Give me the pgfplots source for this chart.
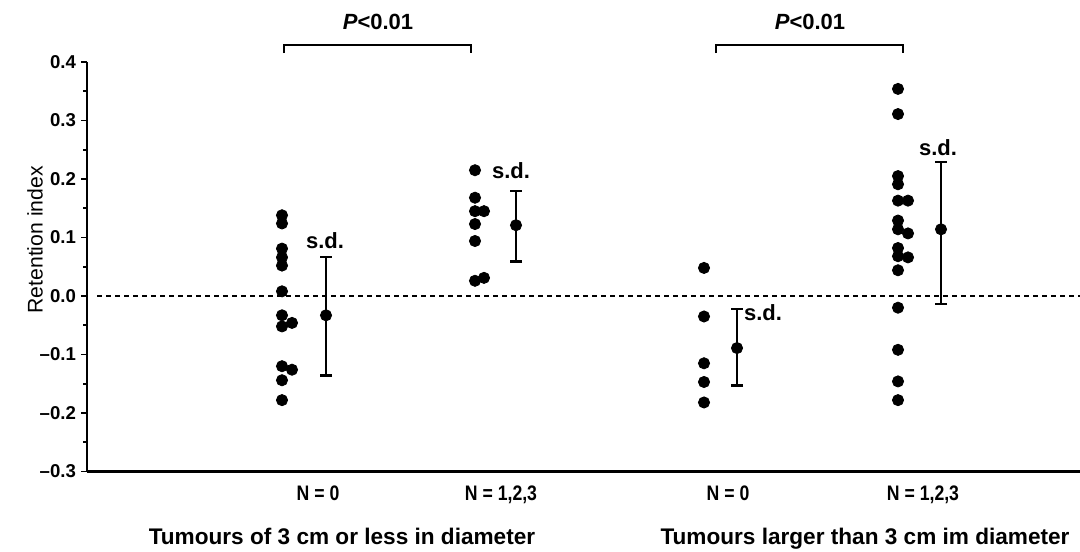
\documentclass[border=0pt]{standalone}
\usepackage{pgfplots}
\pgfplotsset{compat=1.18}
\usepackage{fontspec}
\setmainfont{Liberation Sans}
\newfontfamily\narrowfont[FakeStretch=0.84]{Liberation Sans}

\begin{document}
\begin{tikzpicture}
\begin{axis}[
    x=0.5pt, y=292.5pt,
    xmin=87, xmax=1080, ymin=-0.3, ymax=0.4,
    axis x line=bottom, axis y line=left,
    axis line style={-, line width=1.2pt},
    clip=false,
    ytick={-0.3,-0.2,-0.1,0,0.1,0.2,0.3,0.4},
    yticklabels={--0.3,--0.2,--0.1,0.0,0.1,0.2,0.3,0.4},
    minor ytick={-0.25,-0.15,-0.05,0.05,0.15,0.25,0.35},
    tick align=outside,
    major tick length=3pt, minor tick length=2pt,
    tick style={line width=0.9pt, black},
    yticklabel style={font=\fontsize{9.3}{10}\selectfont\bfseries, xshift=1pt},
    xtick={318,501,728,923},
    xticklabels={{N = 0},{N = 1,2,3},{N = 0},{N = 1,2,3}},
    x tick style={draw=none},
    xticklabel style={font=\narrowfont\bfseries\fontsize{10.5}{12}\selectfont, yshift=-0.5pt},
    dots/.style={only marks, mark=*, black, mark options={fill=black, draw=black}, mark size=2.8pt},
]
% zero line
\draw[line width=0.8pt, dash pattern=on 2.5pt off 2pt] (axis cs:97,0) -- (axis cs:1080,0);

% tumours <= 3 cm, N = 0
\addplot[dots] coordinates {
    (282,0.138) (282,0.124) (282,0.081) (282,0.066) (282,0.052) (282,0.008)
    (282,-0.033) (292,-0.046) (282,-0.052) (282,-0.120) (292,-0.126)
    (282,-0.144) (282,-0.178)
};
% tumours <= 3 cm, N = 1,2,3
\addplot[dots] coordinates {
    (475,0.215) (475,0.168) (475,0.145) (484,0.145) (475,0.123) (475,0.094)
    (475,0.026) (484,0.031)
};
% tumours > 3 cm, N = 0
\addplot[dots] coordinates {
    (704,0.048) (704,-0.035) (704,-0.115) (704,-0.147) (704,-0.182)
};
% tumours > 3 cm, N = 1,2,3
\addplot[dots] coordinates {
    (898,0.354) (898,0.311) (898,0.205) (898,0.191) (898,0.163) (908,0.163)
    (898,0.129) (898,0.114) (908,0.107) (898,0.082) (898,0.068) (908,0.066)
    (898,0.044) (898,-0.020) (898,-0.092) (898,-0.146) (898,-0.178)
};

% means with s.d.
\addplot[dots, error bars/.cd, y dir=both, y explicit,
    error bar style={line width=1.4pt, black},
    error mark options={rotate=90, mark size=3pt, line width=1.1pt, black}]
coordinates {
    (326,-0.033) += (0,0.100) -= (0,0.103)
    (516,0.121) += (0,0.059) -= (0,0.062)
    (737,-0.089) += (0,0.067) -= (0,0.064)
    (941,0.114) += (0,0.115) -= (0,0.127)
};

\begin{scope}[font=\fontsize{11}{12}\selectfont\bfseries]
\node at (axis cs:325,0.094) {s.d.};
\node at (axis cs:511,0.215) {s.d.};
\node at (axis cs:763,-0.029) {s.d.};
\node at (axis cs:938,0.253) {s.d.};
\end{scope}

% brackets
\draw[line width=0.8pt] (axis cs:284,0.415) |- (axis cs:471,0.429) -- (axis cs:471,0.415);
\draw[line width=0.8pt] (axis cs:716,0.415) |- (axis cs:903,0.429) -- (axis cs:903,0.415);
\node[font=\fontsize{11}{12}\selectfont\bfseries] at (axis cs:378,0.468) {\textit{P}<0.01};
\node[font=\fontsize{11}{12}\selectfont\bfseries] at (axis cs:810,0.468) {\textit{P}<0.01};

% group titles
\node[anchor=base, font=\bfseries\fontsize{11.3}{13}\selectfont] at (axis cs:342,-0.4256) {Tumours of 3 cm or less in diameter};
\node[anchor=base, font=\bfseries\fontsize{11.3}{13}\selectfont] at (axis cs:865,-0.4256) {Tumours larger than 3 cm im diameter};

% y label
\node[rotate=90, font=\fontsize{10.6}{12}\selectfont] at (axis cs:35,0.096) {Retention index};

\coordinate (bl) at (axis cs:0,-0.4359);
\coordinate (tr) at (axis cs:1080,0.506);
\end{axis}
\pgfresetboundingbox
\path[use as bounding box] (bl) rectangle (tr);
\end{tikzpicture}
\end{document}
